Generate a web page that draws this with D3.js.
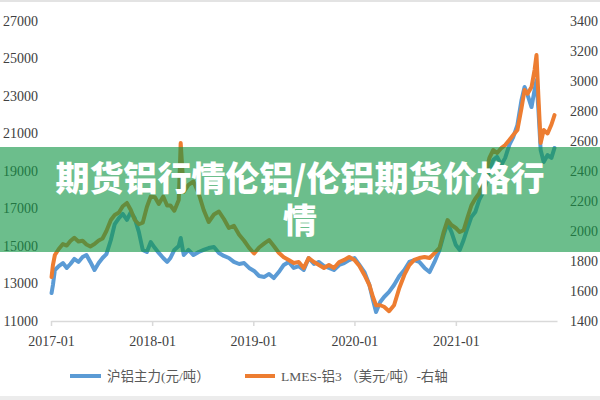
<!DOCTYPE html>
<html><head><meta charset="utf-8">
<script src="https://cdn.jsdelivr.net/npm/d3@7/dist/d3.min.js"></script>
<style>html,body{margin:0;padding:0;background:#fff;}svg{display:block;}</style>
</head><body>
<svg id="c" width="600" height="400"></svg>
<script>
const dates = ["2017-01-03","2017-01-08","2017-01-15","2017-01-29","2017-02-13","2017-02-27","2017-03-12","2017-03-26","2017-04-10","2017-04-25","2017-05-09","2017-05-23","2017-06-07","2017-06-22","2017-07-06","2017-07-20","2017-08-05","2017-08-19","2017-09-03","2017-09-17","2017-10-02","2017-10-16","2017-10-30","2017-11-14","2017-11-28","2017-12-13","2017-12-27","2018-01-11","2018-01-25","2018-02-10","2018-02-24","2018-03-08","2018-03-22","2018-04-07","2018-04-14","2018-04-25","2018-05-12","2018-05-30","2018-06-18","2018-07-06","2018-07-24","2018-08-12","2018-08-30","2018-09-17","2018-10-05","2018-10-23","2018-11-11","2018-11-29","2018-12-17","2019-01-04","2019-01-22","2019-02-10","2019-02-27","2019-03-16","2019-04-03","2019-04-21","2019-05-09","2019-05-27","2019-06-14","2019-07-02","2019-07-20","2019-08-08","2019-08-26","2019-09-13","2019-10-01","2019-10-19","2019-11-07","2019-11-25","2019-12-13","2020-01-01","2020-01-19","2020-02-06","2020-02-24","2020-03-08","2020-03-19","2020-04-03","2020-04-17","2020-05-05","2020-05-23","2020-06-11","2020-06-29","2020-07-17","2020-08-04","2020-08-22","2020-09-10","2020-09-28","2020-10-16","2020-11-03","2020-11-18","2020-12-02","2020-12-16","2021-01-01","2021-01-15","2021-01-29","2021-02-12","2021-02-26","2021-03-12","2021-03-26","2021-04-14","2021-05-02","2021-05-16","2021-05-30","2021-06-14","2021-06-28","2021-07-13","2021-07-27","2021-08-11","2021-08-26","2021-09-06","2021-09-17","2021-10-01","2021-10-12","2021-10-19","2021-10-26","2021-11-03","2021-11-14","2021-11-28","2021-12-12","2021-12-23"];
const shfe = [12490,12920,13720,13930,14090,13830,14040,14310,14150,14410,14520,14150,13720,14090,14360,14570,15320,16170,16490,16710,16390,16810,16490,15750,14790,14680,15210,14890,14630,14360,14150,14360,14790,15000,15430,14520,14790,14520,14680,14790,14890,14950,14630,14470,14360,14150,14040,14090,13830,13670,13400,13350,13510,13290,13610,13990,14150,13830,13930,13720,14360,14040,14150,13930,13830,13720,13990,14090,14250,14360,13990,13610,12920,12120,11480,12010,12280,12550,12920,13400,13720,14150,14250,14150,13830,13610,14150,14790,15590,16230,15750,15050,14790,15320,15960,16550,16810,17450,17990,19050,19590,19750,19320,19700,20390,20810,21450,22790,23480,23050,22410,23320,23850,22250,20120,19480,19850,19700,20230];
const lme = [1693,1773,1840,1880,1913,1903,1933,1955,1930,1935,1910,1897,1913,1937,1950,2000,2073,2107,2123,2165,2187,2140,2075,2045,2055,2160,2230,2225,2180,2230,2170,2170,2135,2207,2587,2260,2307,2330,2250,2140,2060,2110,2130,2080,2020,2035,1975,1935,1887,1850,1890,1917,1940,1900,1855,1825,1807,1787,1793,1753,1820,1793,1773,1753,1773,1753,1793,1807,1827,1807,1767,1707,1640,1560,1505,1505,1495,1465,1505,1620,1707,1773,1807,1820,1827,1820,1853,1887,1993,2073,2040,2020,1993,2005,2090,2170,2215,2250,2350,2487,2540,2520,2553,2573,2607,2640,2673,2820,2940,2915,2960,3073,3173,2893,2587,2673,2650,2710,2773];
const leftTicks = [11000,13000,15000,17000,19000,21000,23000,25000,27000];
const rightTicks = [1400,1600,1800,2000,2200,2400,2600,2800,3000,3200,3400];
const xTicks = ["2017-01","2018-01","2019-01","2020-01","2021-01"];
const seriesNames = ["沪铝主力(元/吨）","LMES-铝3 （美元/吨）-右轴"];
const colors = ["#5b9bd5","#ed7d31"];
const title = ["期货铝行情伦铝/伦铝期货价格行","情"];

const svg = d3.select("#c");
const parse = d3.timeParse("%Y-%m-%d");
const parseM = d3.timeParse("%Y-%m");
const x = d3.scaleTime().domain([parseM("2017-01"), parseM("2022-01")]).range([51, 557]);
const yL = d3.scaleLinear().domain([11000, 27000]).range([321, 21]);
const yR = d3.scaleLinear().domain([1400, 3400]).range([321, 21]);

svg.append("rect").attr("x",0).attr("y",0).attr("width",600).attr("height",2).attr("fill","#e3e3e3");
svg.append("rect").attr("x",0).attr("y",396).attr("width",600).attr("height",4).attr("fill","#ececec");

const serif = "'Liberation Serif','Times New Roman','Noto Sans CJK SC',serif";

// x axis
const xa = svg.append("g").attr("transform","translate(0,321)")
  .call(d3.axisBottom(x).tickValues(xTicks.map(parseM)).tickFormat(d3.timeFormat("%Y-%m")).tickSize(5).tickSizeOuter(0));
xa.select(".domain").attr("stroke","#d9d9d9").attr("stroke-width",1.5);
xa.selectAll(".tick line").attr("stroke","#d9d9d9").attr("stroke-width",1.5);
xa.selectAll("text").attr("fill","#404040").attr("font-family",serif).attr("font-size",14).attr("dy","1.2em");

// left axis
const la = svg.append("g").attr("transform","translate(38,0)")
  .call(d3.axisLeft(yL).tickValues(leftTicks).tickFormat(d3.format("d")).tickSize(0));
la.select(".domain").remove();
la.selectAll("text").attr("fill","#404040").attr("font-family",serif).attr("font-size",14).attr("x",0).attr("text-anchor","end");

// right axis
const ra = svg.append("g").attr("transform","translate(570,0)")
  .call(d3.axisRight(yR).tickValues(rightTicks).tickFormat(d3.format("d")).tickSize(0));
ra.select(".domain").remove();
ra.selectAll("text").attr("fill","#404040").attr("font-family",serif).attr("font-size",14).attr("x",0).attr("text-anchor","start");

const pts = dates.map((d,i)=>({d:parse(d), a:shfe[i], b:lme[i]}));
svg.append("path").datum(pts).attr("fill","none").attr("stroke",colors[0]).attr("stroke-width",4)
  .attr("stroke-linejoin","round").attr("stroke-linecap","round")
  .attr("d", d3.line().x(p=>x(p.d)).y(p=>yL(p.a)));
svg.append("path").datum(pts).attr("fill","none").attr("stroke",colors[1]).attr("stroke-width",4)
  .attr("stroke-linejoin","round").attr("stroke-linecap","round")
  .attr("d", d3.line().x(p=>x(p.d)).y(p=>yR(p.b)));

// legend
const lg = [[70,107],[245,281]];
seriesNames.forEach((n,i)=>{
  svg.append("line").attr("x1",lg[i][0]).attr("x2",lg[i][1]-6).attr("y1",376).attr("y2",376)
    .attr("stroke",colors[i]).attr("stroke-width",4);
  svg.append("text").attr("x",lg[i][1]).attr("y",381).text(n)
    .attr("font-family",serif).attr("font-size",13.5).attr("fill","#595959");
});

// banner overlay
svg.append("rect").attr("x",0).attr("y",147).attr("width",600).attr("height",105)
  .attr("fill","rgb(18,150,70)").attr("fill-opacity",0.62);
const tt = svg.append("text").attr("text-anchor","middle")
  .attr("font-family","'Noto Sans CJK SC','Noto Sans',sans-serif").attr("font-weight",900)
  .attr("font-size",34).attr("fill","#fff");
title.forEach((t,i)=>{
  tt.append("tspan").attr("x",300).attr("y",191+i*42).text(t);
});
</script>
</body></html>
